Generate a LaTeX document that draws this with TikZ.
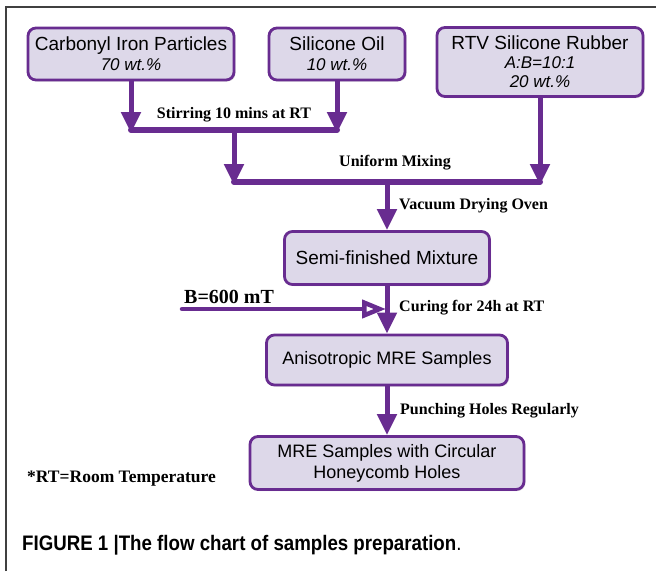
\documentclass[tikz,border=0pt]{standalone}
\usepackage{fontspec}
\setmainfont{Liberation Serif}
\setsansfont{Liberation Sans}
\usetikzlibrary{arrows.meta,shadows}
\definecolor{mrepurple}{RGB}{104,44,144}
\definecolor{mrefill}{RGB}{221,216,233}
\begin{document}
\begin{tikzpicture}[x=1pt,y=-1pt]

\tikzstyle{stepbox}=[rectangle,rounded corners=8pt,draw=mrepurple,line width=2.8pt,fill=mrefill,
  inner sep=0pt,align=center,font=\sffamily\fontsize{19}{22}\selectfont,
  drop shadow={opacity=0.25,shadow xshift=1.5pt,shadow yshift=-1.5pt}]
\tikzstyle{flow}=[draw=mrepurple,line width=5pt,-{Triangle[length=21pt,width=19pt]}]
\tikzstyle{bar}=[draw=mrepurple,line width=6pt,line cap=round]
\tikzstyle{steplabel}=[inner sep=0pt,font=\bfseries\fontsize{16}{19}\selectfont]

\useasboundingbox (0,0) rectangle (656,571);
\draw[line width=1.2pt,black!75] (6,571) -- (6,7) -- (656,7);

% raw materials
\node[stepbox,minimum width=206pt,minimum height=52pt] (CIP) at (131,54)
  {Carbonyl Iron Particles\\[-2pt]{\itshape\fontsize{17}{19}\selectfont 70 wt.\%}} ;
\node[stepbox,minimum width=136pt,minimum height=52pt] (SO)  at (337,54)
  {Silicone Oil\\[-2pt]{\itshape\fontsize{17}{19}\selectfont 10 wt.\%}} ;
\node[stepbox,minimum width=206pt,minimum height=69pt] (RTV) at (540,62)
  {RTV Silicone Rubber\\[-3pt]{\itshape\fontsize{17}{20}\selectfont A:B=10:1}\\[-3pt]{\itshape\fontsize{17}{20}\selectfont 20 wt.\%}} ;

% process steps
\node[stepbox,minimum width=205pt,minimum height=53pt] (semi)  at (387,258) {Semi-finished Mixture} ;
\node[stepbox,minimum width=241pt,minimum height=50pt,font=\sffamily\fontsize{18}{21}\selectfont] (aniso) at (387,360) {Anisotropic MRE Samples} ;
\node[stepbox,minimum width=274pt,minimum height=53pt,font=\sffamily\fontsize{18}{21}\selectfont] (holes) at (387,463)
  {MRE Samples with Circular\\Honeycomb Holes} ;

% junctions
\coordinate (j1l) at (131,130) ;
\coordinate (j1r) at (337,130) ;
\coordinate (j1m) at (234,130) ;
\coordinate (j2l) at (234,182) ;
\coordinate (j2r) at (540,182) ;
\coordinate (j2m) at (387,182) ;
\coordinate (Bin) at (182,309) ;

\draw[bar] (j1l) -- (j1r) ;
\draw[bar] (j2l) -- (j2r) ;
\draw[flow] (CIP.south) -- ([yshift=-3pt]j1l) ;
\draw[flow] (SO.south)  -- ([yshift=-3pt]j1r) ;
\draw[flow] (j1m) -- ([yshift=-3pt]j2l) ;
\draw[flow] (RTV.south) -- ([yshift=-3pt]j2r) ;
\draw[flow] (j2m) -- (semi.north) ;
\draw[flow] (semi.south) -- (aniso.north) ;
\draw[flow] (aniso.south) -- (holes.north) ;
\draw[draw=mrepurple,line width=4.5pt,line cap=round,-{Triangle[open,length=24pt,width=18pt]}]
  (Bin) -- ([xshift=-1pt]semi.south |- Bin) ;

% labels
\node[steplabel] (stir)  at (234,115) {Stirring 10 mins at RT} ;
\node[steplabel] (mix)   at (395,163) {Uniform Mixing} ;
\node[steplabel,anchor=west] (vac)   at (399,206) {Vacuum Drying Oven} ;
\node[steplabel,anchor=west] (cure)  at (399,308) {Curing for 24h at RT} ;
\node[steplabel,anchor=west] (punch) at (400,411) {Punching Holes Regularly} ;
\node[steplabel,anchor=west,font=\bfseries\fontsize{20}{22}\selectfont] (field) at (184,297) {B=600 mT} ;
\node[steplabel,anchor=west,font=\fontsize{17.5}{20}\selectfont\bfseries] (note) at (27,479) {*RT=Room Temperature} ;

% caption
\node[anchor=west,inner sep=0pt,xscale=0.89,font=\sffamily\fontsize{21}{24}\selectfont] (caption) at (22,545)
  {\textbf{FIGURE 1 |The flow chart of samples preparation}.} ;

\end{tikzpicture}
\end{document}
